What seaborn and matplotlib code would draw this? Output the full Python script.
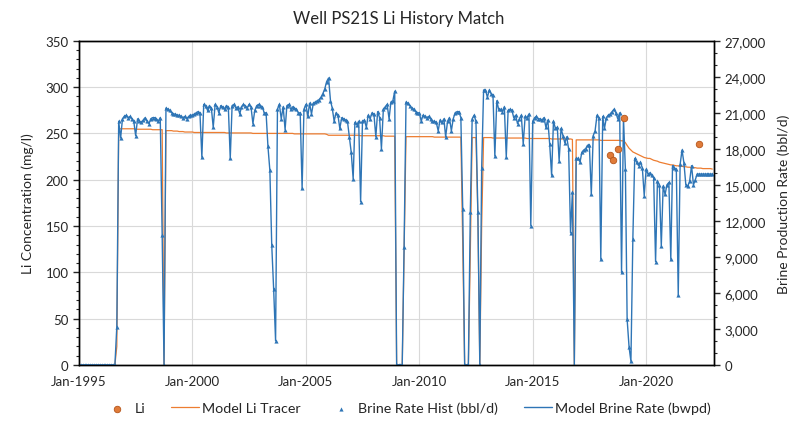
import pandas as pd
import matplotlib
matplotlib.use("Agg")
import matplotlib.pyplot as plt
import matplotlib.dates as mdates
from matplotlib.ticker import MultipleLocator, FuncFormatter
import seaborn as sns

# Monthly brine production rate (bbl/d), one row per year 1995-2022
brine_1995 = [0, 0, 0, 0, 0, 0, 0, 0, 0, 0, 0, 0]
brine_1996 = [0, 0, 0, 0, 0, 0, 0, 0, 3200, 20300, 18900, 20500]
brine_1997 = [20700, 20800, 20600, 20700, 20500, 20300, 19100, 20500, 20300, 20200, 20400, 20600]
brine_1998 = [20300, 20100, 20500, 20600, 20600, 20500, 20300, 20600, 10800, 0, 21400, 21300]
brine_1999 = [21200, 21000, 20900, 20900, 20800, 20800, 20700, 20600, 20700, 20500, 20700, 20800]
brine_2000 = [20800, 20900, 21000, 21100, 21000, 17300, 21700, 21600, 21200, 21600, 21400, 19800]
brine_2001 = [21700, 21500, 21000, 21600, 21500, 21300, 21600, 21500, 17200, 21600, 21700, 21400]
brine_2002 = [21500, 20900, 21500, 21700, 21600, 21400, 21700, 21500, 20100, 21200, 21600, 21700]
brine_2003 = [21600, 21500, 21000, 21000, 18200, 16200, 10000, 6300, 2000, 21300, 21700, 20500]
brine_2004 = [21500, 19600, 21600, 21700, 21300, 21500, 21400, 21300, 21000, 21000, 14700, 21300]
brine_2005 = [21700, 20700, 21800, 20900, 21800, 21900, 22000, 22100, 22300, 22600, 23000, 23600]
brine_2006 = [23900, 22000, 21400, 20300, 21000, 20800, 19700, 20600, 20500, 20400, 20300, 19000]
brine_2007 = [17700, 15500, 20200, 20000, 20300, 13600, 20300, 20400, 19800, 20800, 20500, 21000]
brine_2008 = [20900, 19000, 21100, 20600, 18000, 21300, 21500, 21700, 20500, 21900, 22000, 22800]
brine_2009 = [0, 0, 0, 0, 9800, 21900, 21800, 21600, 21400, 21300, 21100, 21000]
brine_2010 = [21000, 20300, 20800, 20700, 20600, 20700, 20500, 20300, 20300, 20200, 19500, 20400]
brine_2011 = [20200, 20500, 19000, 20300, 20600, 19500, 20500, 21000, 21100, 21100, 20600, 13000]
brine_2012 = [0, 0, 0, 12700, 20500, 20800, 20300, 12700, 0, 16400, 22900, 22900]
brine_2013 = [22300, 22900, 22600, 22500, 17400, 22000, 21300, 21300, 21100, 21500, 17300, 21200]
brine_2014 = [21300, 21200, 20600, 20800, 20100, 20500, 20800, 18400, 20700, 20600, 20900, 11600]
brine_2015 = [20300, 20600, 20700, 20500, 20500, 20400, 20600, 19800, 20400, 18400, 15800, 20300]
brine_2016 = [19700, 19800, 17000, 19700, 19100, 18500, 19000, 18000, 11000, 14400, 0, 17200]
brine_2017 = [17200, 16900, 17700, 17900, 18000, 18300, 18300, 14200, 19100, 19500, 20800, 20600]
brine_2018 = [8800, 20700, 19700, 20600, 20800, 20900, 21100, 21300, 21000, 20500, 21000, 7700]
brine_2019 = [20600, 16300, 3800, 1500, 300, 10500, 17200, 16900, 16600, 16900, 16400, 14100]
brine_2020 = [16300, 15900, 16000, 15800, 15600, 8600, 15300, 15000, 9900, 14900, 14200, 15000]
brine_2021 = [15200, 8800, 16600, 16400, 16300, 5800, 16700, 17900, 16800, 15000, 14900, 15300]
brine_2022 = [16600, 15000, 15400, 15900, 15900, 15900, 15900, 15900, 15900, 15900, 15900, 15900]

# Monthly model Li tracer concentration (mg/l)
li_1995 = [0, 0, 0, 0, 0, 0, 0, 0, 0, 0, 0, 0]
li_1996 = [0, 0, 0, 0, 0, 0, 0, 0, 20, 255, 255, 255]
li_1997 = [255, 255, 255, 255, 255, 255, 254.5, 254.5, 254.5, 254.5, 254.5, 254.5]
li_1998 = [254.5, 254.5, 254.5, 254, 254, 254, 254, 254, 254, 0, 253, 253]
li_1999 = [253, 253, 252.5, 252.5, 252.5, 252, 252, 252, 251.5, 251.5, 251.5, 251.5]
li_2000 = [251.5, 251, 251, 251, 251, 251, 251, 251, 251, 251, 251, 251]
li_2001 = [251, 251, 251, 251, 251, 251, 250.5, 250.5, 250.5, 250.5, 250.5, 250.5]
li_2002 = [250.5, 250.5, 250.5, 250.5, 250.5, 250.5, 250.5, 250.5, 250, 250, 250, 250]
li_2003 = [250, 250, 250, 250, 250, 250, 250, 250, 250, 250, 250, 250]
li_2004 = [250, 250, 250, 250, 250, 250, 249.5, 249.5, 249.5, 249.5, 249.5, 249.5]
li_2005 = [249.5, 249.5, 249.5, 249.5, 249.5, 249.5, 249.5, 249.5, 249.5, 249.5, 249.5, 249]
li_2006 = [248, 248, 248, 248, 248, 248, 248, 248, 248, 248, 248, 248]
li_2007 = [248, 248, 248, 248, 248, 247.5, 247.5, 247.5, 247.5, 247.5, 247.5, 247.5]
li_2008 = [247.5, 247.5, 247.5, 247.5, 247.5, 247.5, 247, 247, 247, 247, 247, 247]
li_2009 = [0, 0, 0, 0, 120, 246.5, 246.5, 246.5, 246.5, 246.5, 246.5, 246.5]
li_2010 = [246.5, 246.5, 246.5, 246.5, 246.5, 246.5, 246.5, 246.5, 246, 246, 246, 246]
li_2011 = [246, 246, 246, 246, 246, 246, 246, 246, 246, 246, 246, 130]
li_2012 = [0, 0, 0, 120, 245.5, 245.5, 245.5, 160, 0, 150, 245.5, 245.5]
li_2013 = [245.5, 245.5, 245.5, 245, 245, 245, 245, 245, 245, 245, 245, 245]
li_2014 = [245, 245, 245, 245, 245, 245, 245, 245, 245, 244.5, 244.5, 244.5]
li_2015 = [244.5, 244.5, 244.5, 244.5, 244.5, 244.5, 244.5, 244.5, 244.5, 244.5, 244, 244]
li_2016 = [244, 244, 244, 244, 244, 244, 244, 244, 244, 243.5, 0, 243]
li_2017 = [243, 243, 243, 243, 243, 243, 243, 243, 243, 243, 243, 243]
li_2018 = [242.5, 242.5, 242.5, 242.5, 242.5, 242.5, 242.5, 242.5, 242.5, 242.5, 242.5, 242]
li_2019 = [242, 240, 237, 234, 232, 230, 229, 228, 227, 226, 225, 224]
li_2020 = [223.5, 223, 223, 222, 221, 220.5, 220, 219, 218.5, 218, 217.5, 217]
li_2021 = [216.5, 216, 216, 215.5, 215, 215, 214.5, 214.5, 214, 214, 213.5, 213.5]
li_2022 = [213, 213, 213, 212.5, 212.5, 212.5, 212, 212, 212, 212, 212, 211.5]

# Measured Li samples
li_sample_dates = ["2018-06-01", "2018-07-15", "2018-10-08", "2019-01-08", "2022-05-05"]
li_sample_values = [227, 221, 233, 267, 239]

years = range(1995, 2023)
brine_hist = sum((globals()[f"brine_{y}"] for y in years), [])
li_tracer = sum((globals()[f"li_{y}"] for y in years), [])
dates = pd.date_range("1995-01-01", periods=len(brine_hist), freq="MS")

# model brine rate follows the history rate
df = pd.DataFrame({"Date": dates, "BrineHist": brine_hist,
                   "ModelBrine": brine_hist, "LiTracer": li_tracer})
df_li = pd.DataFrame({"Date": pd.to_datetime(li_sample_dates), "Li": li_sample_values})

blue = "#2E75B6"
orange = "#ED7D31"

sns.set_style("white")
plt.rcParams["font.family"] = ["Lato", "DejaVu Sans"]

fig = plt.figure(figsize=(7.98, 4.31), dpi=100)
pos = [0.099, 0.151, 0.796, 0.752]
ax = fig.add_axes(pos)
ax2 = ax.twinx()
ax3 = fig.add_axes(pos, sharex=ax, sharey=ax)  # overlay for the Li samples
ax3.set_axis_off()
ax3.patch.set_visible(False)

# Li tracer on the left axis (under the brine lines)
sns.lineplot(x="Date", y="LiTracer", data=df, ax=ax, color=orange, lw=0.9,
             label="Model Li Tracer")

# brine rate on the right axis
sns.lineplot(x="Date", y="ModelBrine", data=df, ax=ax2, color=blue, lw=1.0,
             label="Model Brine Rate (bwpd)")
sns.scatterplot(x="Date", y="BrineHist", data=df, ax=ax2, color=blue, marker="^",
                s=9, linewidth=0, label="Brine Rate Hist (bbl/d)")

# measured Li on top
sns.scatterplot(x="Date", y="Li", data=df_li, ax=ax3, color="#E07B39", s=22,
                edgecolor="#B5551A", linewidth=0.6, label="Li", zorder=5)

for a in (ax, ax2, ax3):
    if a.get_legend():
        a.get_legend().remove()

ax.set_xlim(pd.Timestamp("1995-01-01"), pd.Timestamp("2023-01-01"))
ax.set_ylim(0, 350)
ax2.set_ylim(0, 27000)

ax.xaxis.set_major_locator(mdates.YearLocator(5))
ax.xaxis.set_minor_locator(mdates.YearLocator(1))
ax.xaxis.set_major_formatter(mdates.DateFormatter("%b-%Y"))
ax.yaxis.set_major_locator(MultipleLocator(50))
ax.yaxis.set_minor_locator(MultipleLocator(10))
ax2.yaxis.set_major_locator(MultipleLocator(3000))
ax2.yaxis.set_minor_locator(MultipleLocator(1000))
ax2.yaxis.set_major_formatter(FuncFormatter(lambda v, p: f"{v:,.0f}"))

ax.grid(True, which="major", color="#D9D9D9", lw=0.8)
ax.set_axisbelow(True)

ax.tick_params(axis="x", which="major", direction="inout", length=7, width=1, labelsize=9.5, pad=4)
ax.tick_params(axis="x", which="minor", direction="out", length=3.5, width=0.8)
ax.tick_params(axis="y", which="major", direction="out", length=4, width=1, labelsize=9.5, left=True)
ax.tick_params(axis="y", which="minor", direction="out", length=2.5, width=0.8, left=True)
ax2.tick_params(axis="y", which="major", direction="out", length=4, width=1, labelsize=9.5, right=True)
ax2.tick_params(axis="y", which="minor", direction="out", length=2.5, width=0.8, right=True)

for a in (ax, ax2):
    for s in a.spines.values():
        s.set_color("black")
        s.set_linewidth(1.0)
        s.set_visible(True)

ax.set_xlabel("")
ax.set_ylabel("Li Concentration (mg/l)", fontsize=10, labelpad=8)
ax2.set_ylabel("Brine Production Rate (bbl/d)", fontsize=10, labelpad=8)
fig.suptitle("Well PS21S Li History Match", fontsize=12, y=0.975)

h = {}
for a in (ax, ax2, ax3):
    for hh, ll in zip(*a.get_legend_handles_labels()):
        h[ll] = hh
order = ["Li", "Model Li Tracer", "Brine Rate Hist (bbl/d)", "Model Brine Rate (bwpd)"]
fig.legend([h[k] for k in order], order, loc="center", bbox_to_anchor=(0.51, 0.051),
           ncol=4, frameon=False, fontsize=10.3, columnspacing=1.8, handlelength=2.0,
           handletextpad=0.2)

fig.savefig("out.png", dpi=100)
